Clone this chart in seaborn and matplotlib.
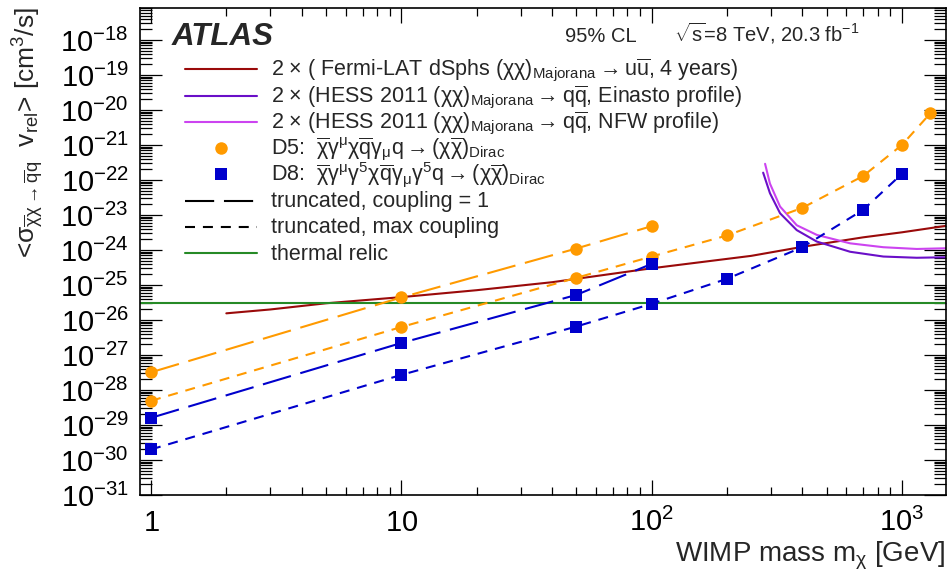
import numpy as np
import pandas as pd
import seaborn as sns
import matplotlib
matplotlib.use("Agg")
import matplotlib.pyplot as plt
from matplotlib.lines import Line2D
from matplotlib.ticker import FixedLocator, LogLocator, NullFormatter, FixedFormatter

# ---------------- data ----------------
d5_c1_mass = [1, 10, 50, 100]
d5_c1_sigv = [3.2e-28, 4.4e-26, 1.1e-24, 4.8e-24]

d5_max_mass = [1, 10, 50, 100, 200, 400, 700, 1000, 1300]
d5_max_sigv = [4.9e-29, 6.3e-27, 1.6e-25, 6.5e-25, 2.6e-24, 1.6e-23, 1.3e-22, 1.0e-21, 8.1e-21]

d8_c1_mass = [1, 10, 50, 100]
d8_c1_sigv = [1.6e-29, 2.2e-27, 5.2e-26, 4.0e-25]

d8_max_mass = [1, 10, 50, 100, 200, 400, 700, 1000]
d8_max_sigv = [2.0e-30, 2.7e-28, 6.5e-27, 2.9e-26, 1.5e-25, 1.2e-24, 1.4e-23, 1.5e-22]

fermi_mass = [2, 3, 5, 10, 20, 40, 100, 250, 400, 700, 1000, 1500]
fermi_sigv = [1.55e-26, 2.0e-26, 3.0e-26, 4.5e-26, 7.1e-26, 1.2e-25, 3.0e-25,
              6.8e-25, 1.23e-24, 2.3e-24, 3.2e-24, 4.9e-24]

einasto_mass = [279, 297, 326, 380, 457, 621, 843, 1146, 1500]
einasto_sigv = [1.62e-22, 4.2e-23, 1.12e-23, 3.7e-24, 1.74e-24, 8.9e-25, 6.5e-25, 6.0e-25, 6.2e-25]

nfw_mass = [284, 297, 326, 380, 457, 621, 843, 1146, 1500]
nfw_sigv = [2.9e-22, 7.9e-23, 1.74e-23, 5.1e-24, 2.7e-24, 1.55e-24, 1.2e-24, 1.07e-24, 1.12e-24]

thermal_relic = 3e-26

x_ticks = [1, 10, 100, 1000]
x_tick_labels = ["$1$", "$10$", "$10^{2}$", "$10^{3}$"]
y_ticks = [10.0 ** e for e in range(-31, -17)]
y_tick_labels = ["$10^{%d}$" % e for e in range(-31, -17)]

legend_labels = [
    r"2 $\times$ ( Fermi-LAT dSphs $(\chi\chi)_{\mathrm{Majorana}}\rightarrow \mathrm{u}\overline{\mathrm{u}}$, 4 years)",
    r"2 $\times$ (HESS 2011 $(\chi\chi)_{\mathrm{Majorana}}\rightarrow \mathrm{q}\overline{\mathrm{q}}$, Einasto profile)",
    r"2 $\times$ (HESS 2011 $(\chi\chi)_{\mathrm{Majorana}}\rightarrow \mathrm{q}\overline{\mathrm{q}}$, NFW profile)",
    r"D5:  $\overline{\chi}\gamma^{\mu}\chi\overline{\mathrm{q}}\gamma_{\mu}\mathrm{q}\rightarrow(\chi\overline{\chi})_{\mathrm{Dirac}}$",
    r"D8:  $\overline{\chi}\gamma^{\mu}\gamma^{5}\chi\overline{\mathrm{q}}\gamma_{\mu}\gamma^{5}\mathrm{q}\rightarrow(\chi\overline{\chi})_{\mathrm{Dirac}}$",
    "truncated, coupling = 1",
    "truncated, max coupling",
    "thermal relic",
]

# ---------------- style ----------------
sns.set_theme(style="ticks")
plt.rcParams["font.family"] = ["Liberation Sans", "DejaVu Sans"]
plt.rcParams["mathtext.fontset"] = "custom"
plt.rcParams["mathtext.rm"] = "Liberation Sans"
plt.rcParams["mathtext.it"] = "Liberation Sans:italic"
plt.rcParams["mathtext.bf"] = "Liberation Sans:bold"
plt.rcParams["mathtext.sf"] = "Liberation Sans"
plt.rcParams["mathtext.default"] = "regular"

RED = "#9a0a0a"
EIN = "#6a0fc8"
NFW = "#cc44f0"
ORANGE = "#ff9a00"
BLUE = "#0000cc"
GREEN = "#268a26"

LW = 1.5
LONG = (0, (14, 4.7))
SHORT = (0, (4.8, 3.8))

W, H = 947, 577
fig = plt.figure(figsize=(W / 100, H / 100), dpi=100)
ax = fig.add_axes([140 / W, 82 / H, 806 / W, 487 / H])
ax.set_xscale("log")
ax.set_yscale("log")

# curves
sns.lineplot(x=fermi_mass, y=fermi_sigv, ax=ax, color=RED, lw=LW, estimator=None, sort=False)
sns.lineplot(x=einasto_mass, y=einasto_sigv, ax=ax, color=EIN, lw=LW, estimator=None, sort=False)
sns.lineplot(x=nfw_mass, y=nfw_sigv, ax=ax, color=NFW, lw=LW, estimator=None, sort=False)
ax.axhline(thermal_relic, color=GREEN, lw=LW)

sns.lineplot(x=d5_c1_mass, y=d5_c1_sigv, ax=ax, color=ORANGE, lw=LW, linestyle=LONG,
             marker="o", markersize=9, markeredgewidth=0, estimator=None, sort=False)
sns.lineplot(x=d5_max_mass, y=d5_max_sigv, ax=ax, color=ORANGE, lw=LW, linestyle=SHORT,
             marker="o", markersize=9, markeredgewidth=0, estimator=None, sort=False)
sns.lineplot(x=d8_c1_mass, y=d8_c1_sigv, ax=ax, color=BLUE, lw=LW, linestyle=LONG,
             marker="s", markersize=8.5, markeredgewidth=0, estimator=None, sort=False)
sns.lineplot(x=d8_max_mass, y=d8_max_sigv, ax=ax, color=BLUE, lw=LW, linestyle=SHORT,
             marker="s", markersize=8.5, markeredgewidth=0, estimator=None, sort=False)

# axes
ax.set_xlim(0.904, 1500)
ax.set_ylim(1e-31, 10 ** (-17.086))
ax.xaxis.set_major_locator(FixedLocator(x_ticks))
ax.xaxis.set_major_formatter(FixedFormatter(x_tick_labels))
ax.xaxis.set_minor_locator(LogLocator(base=10, subs=np.arange(2, 10), numticks=100))
ax.xaxis.set_minor_formatter(NullFormatter())
ax.yaxis.set_major_locator(FixedLocator(y_ticks))
ax.yaxis.set_major_formatter(FixedFormatter(y_tick_labels))
ax.yaxis.set_minor_locator(LogLocator(base=10, subs=np.arange(2, 10), numticks=200))
ax.yaxis.set_minor_formatter(NullFormatter())

for s in ax.spines.values():
    s.set_linewidth(1.2)
    s.set_color("black")
ax.tick_params(which="both", direction="in", top=True, right=True, colors="black", width=0.9)
ax.tick_params(axis="y", which="major", length=16, labelsize=21, pad=8)
ax.tick_params(axis="y", which="minor", length=8.5)
ax.tick_params(axis="x", which="major", length=11, labelsize=21, pad=26)
ax.tick_params(axis="x", which="minor", length=6)
for lab in ax.get_xticklabels():
    lab.set_verticalalignment("baseline")

ax.set_xlabel("")
ax.set_ylabel("")

# axis titles
fig.text(945 / W, 1 - 562 / H, r"WIMP mass m$_{\chi}$ [GeV]", ha="right", va="baseline",
         fontsize=20)
fig.text(0.03, 0.988,
         r"<$\sigma_{\overline{\chi}\chi\rightarrow\overline{\mathrm{q}}\mathrm{q}}$  v$_{\mathrm{rel}}$> [cm$^{3}$/s]",
         rotation=90, ha="center", va="top", fontsize=19)

# annotations
fig.text(172 / W, 1 - 45 / H, "ATLAS", fontsize=22.5, fontweight="bold", fontstyle="italic",
         ha="left", va="baseline")
fig.text(565 / W, 1 - 42 / H, "95% CL", fontsize=14.5, ha="left", va="baseline")
fig.text(674 / W, 1 - 42 / H, r"$\sqrt{\mathrm{s}}$=8 TeV, 20.3 fb$^{-1}$", fontsize=14.5,
         ha="left", va="baseline")

# legend: handles placed by the legend, labels on common baselines
handles = [
    Line2D([], [], color=RED, lw=LW),
    Line2D([], [], color=EIN, lw=LW),
    Line2D([], [], color=NFW, lw=LW),
    Line2D([], [], color=ORANGE, marker="o", ls="none", ms=9, mew=0),
    Line2D([], [], color=BLUE, marker="s", ls="none", ms=8.5, mew=0),
    Line2D([], [], color="black", lw=LW, ls=LONG),
    Line2D([], [], color="black", lw=LW, ls=SHORT),
    Line2D([], [], color=GREEN, lw=LW),
]
LEG_FS = 10
fs_px = LEG_FS * 100 / 72
row_pitch = 26.3
hh = 1.3
spacing = (row_pitch - hh * fs_px) / fs_px
anchor_x = (185 - 140) / 806
anchor_y = (495 - 60.3) / 487


def make_legend(sp, axx, axy):
    return ax.legend(handles, [""] * len(handles), bbox_to_anchor=(axx, axy),
                     loc="upper left", frameon=False, fontsize=LEG_FS,
                     handlelength=72 / fs_px, handleheight=hh, handletextpad=0,
                     labelspacing=sp, borderaxespad=0, borderpad=0, numpoints=1)


def handle_centers(leg, renderer):
    out = []
    for h in leg.legend_handles:
        bb = h.get_window_extent(renderer)
        out.append((0.5 * (bb.x0 + bb.x1), 0.5 * (bb.y0 + bb.y1)))
    return out


leg = make_legend(spacing, anchor_x, anchor_y)
for _ in range(3):
    fig.canvas.draw()
    renderer = fig.canvas.get_renderer()
    c = handle_centers(leg, renderer)
    pitch = (c[0][1] - c[-1][1]) / (len(c) - 1)
    spacing += (row_pitch - pitch) / fs_px
    dy = (H - 69.3) - c[0][1]
    dx = 221 - c[3][0]
    anchor_x += dx / 806
    anchor_y += dy / 487
    leg.remove()
    leg = make_legend(spacing, anchor_x, anchor_y)

fig.canvas.draw()
renderer = fig.canvas.get_renderer()
c = handle_centers(leg, renderer)

for (cx, cy), lab in zip(c, legend_labels):
    fig.text(271 / W, (cy - 6.3) / H, lab, fontsize=15.5, ha="left", va="baseline")

fig.savefig("out.png", dpi=100)
